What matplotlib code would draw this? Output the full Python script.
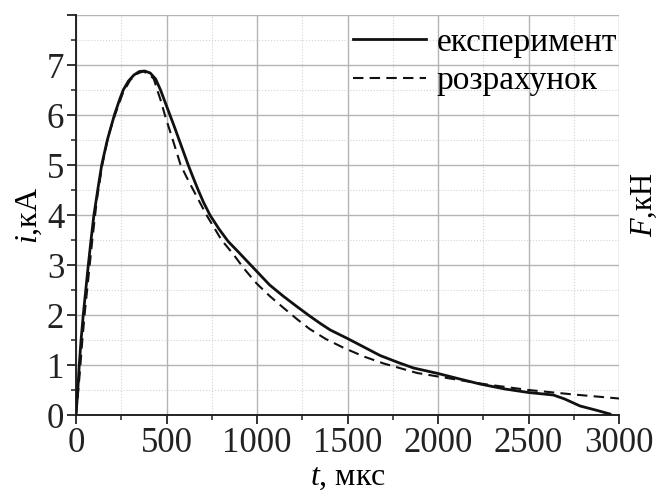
import matplotlib
matplotlib.use("Agg")
import matplotlib.pyplot as plt
from matplotlib.ticker import MultipleLocator

plt.rcParams['font.family'] = ['Liberation Serif', 'DejaVu Serif']
plt.rcParams['mathtext.fontset'] = 'custom'
plt.rcParams['mathtext.rm'] = 'Liberation Serif'
plt.rcParams['mathtext.it'] = 'Liberation Serif:italic'

# experiment (measured current), t in us, i in kA
t_exp = [0, 10, 18, 28, 40, 54, 68, 83, 99, 120, 142, 173, 212, 240, 261, 290,
         320, 350, 380, 410, 440, 467, 493, 519, 545, 570, 595, 620, 647, 675,
         705, 740, 790, 841, 900, 960, 1070, 1144, 1220, 1291, 1350, 1405, 1500,
         1590, 1680, 1780, 1865, 2000, 2120, 2232, 2370, 2500, 2637, 2700, 2785,
         2870, 2950]
i_exp = [0, 0.5, 1.0, 1.5, 2.0, 2.5, 3.0, 3.5, 4.0, 4.5, 5.0, 5.5, 6.0, 6.3, 6.5, 6.68,
         6.8, 6.87, 6.88, 6.84, 6.72, 6.5, 6.25, 6.0, 5.75, 5.5, 5.25, 5.0, 4.75, 4.5,
         4.25, 4.0, 3.72, 3.47, 3.25, 3.02, 2.6, 2.38, 2.17, 1.98, 1.83, 1.70, 1.53,
         1.36, 1.19, 1.05, 0.94, 0.83, 0.72, 0.62, 0.52, 0.45, 0.40, 0.32, 0.18,
         0.1, 0.02]

# calculation
t_calc = [0, 20, 35, 50, 70, 90, 115, 145, 180, 215, 260, 300, 340, 370, 400, 430,
          449, 470, 491, 535, 578, 612, 648, 721, 804, 868, 930, 998, 1070, 1144,
          1220, 1291, 1380, 1475, 1590, 1700, 1885, 2000, 2250, 2500, 2750, 3000]
i_calc = [0, 0.8, 1.5, 2.1, 2.8, 3.5, 4.3, 5.0, 5.6, 6.0, 6.45, 6.7, 6.83, 6.87, 6.83, 6.72,
          6.5, 6.27, 6.0, 5.5, 5.0, 4.75, 4.5, 4.0, 3.5, 3.22, 2.92, 2.63, 2.38, 2.15,
          1.92, 1.72, 1.52, 1.35, 1.17, 1.03, 0.84, 0.77, 0.62, 0.5, 0.41, 0.33]

labels = ['експеримент', 'розрахунок']

fig = plt.figure(figsize=(6.59, 4.95), dpi=100)
ax = fig.add_axes([76 / 659, 1 - 415 / 495, 543 / 659, 400 / 495])

ax.plot(t_exp, i_exp, color='#111111', lw=2.0, label=labels[0], zorder=3)
ax.plot(t_calc, i_calc, color='#111111', lw=1.5, ls=(0, (5, 3)), label=labels[1], zorder=4)

ax.set_xlim(0, 3000)
ax.set_ylim(0, 8)
ax.xaxis.set_major_locator(MultipleLocator(500))
ax.xaxis.set_minor_locator(MultipleLocator(250))
ax.set_yticks(range(9))
ax.set_yticklabels([str(v) for v in range(8)] + [''])
ax.yaxis.set_minor_locator(MultipleLocator(0.5))

ax.grid(which='major', color='#b4b4b4', lw=1.0)
ax.grid(which='minor', color='#d4d4d4', lw=0.8, ls=':')
ax.set_axisbelow(True)

for s in ['top', 'right']:
    ax.spines[s].set_visible(False)
for s in ['left', 'bottom']:
    ax.spines[s].set_linewidth(1.4)
    ax.spines[s].set_color('#222222')

ax.tick_params(which='major', direction='out', length=6.5, width=1.3, labelsize=25, pad=2,
               colors='#222222')
ax.tick_params(which='minor', direction='out', length=3.5, width=1.1, colors='#222222')

ax.set_xlabel('$t$, мкс', fontsize=23, labelpad=2)
ax.set_ylabel('$i$,кА', fontsize=23, labelpad=2)
fig.text(644 / 659, 1 - 205 / 495, '$F$,кН', rotation=90, fontsize=22,
         ha='center', va='center')

ax.legend(loc='upper left', bbox_to_anchor=(353 / 659, 1 - 27 / 495),
          bbox_transform=fig.transFigure, frameon=False, fontsize=24,
          handlelength=2.2, handletextpad=0.3, labelspacing=0.25,
          borderpad=0, borderaxespad=0)

fig.savefig('out.png', dpi=100, facecolor='white')
